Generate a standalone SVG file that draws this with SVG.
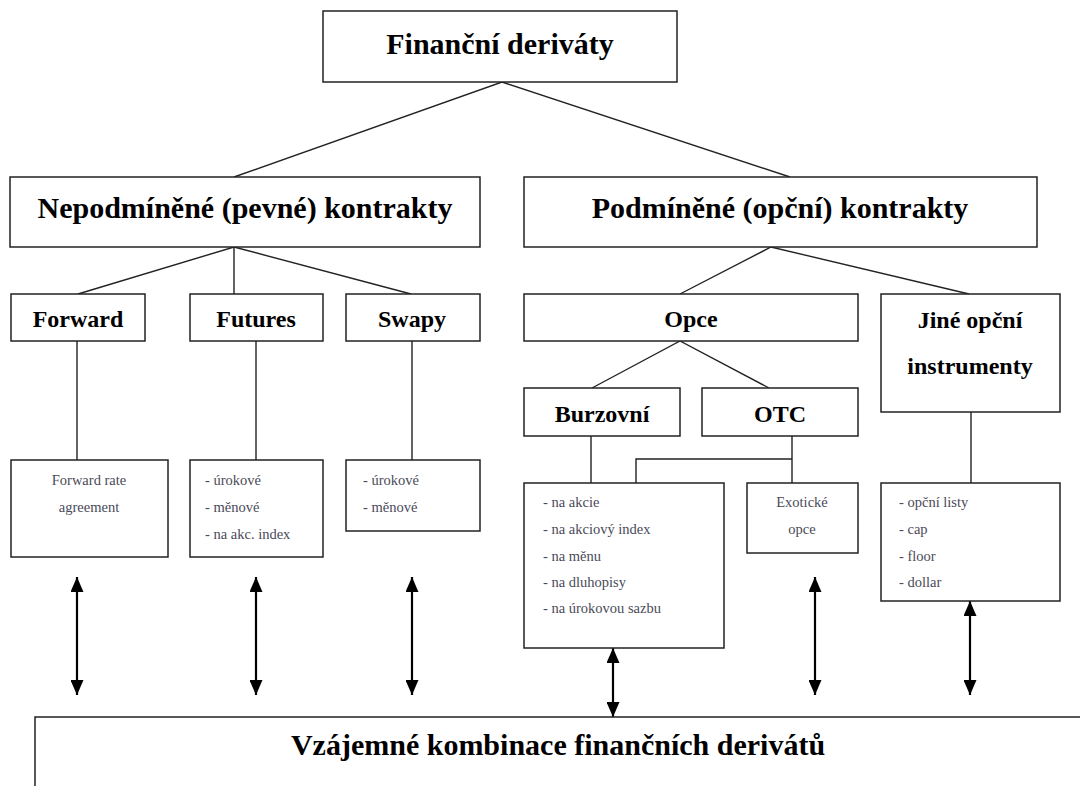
<svg xmlns="http://www.w3.org/2000/svg" width="1080" height="786" viewBox="0 0 1080 786">
<style>
.box{fill:#fff;stroke:#222;stroke-width:1.5}
.ln{fill:none;stroke:#222;stroke-width:1.4}
.arr{fill:none;stroke:#000;stroke-width:2.2;marker-start:url(#ah);marker-end:url(#ah)}
.h{font-family:"Liberation Serif","Times New Roman",serif;font-weight:bold;fill:#000;text-anchor:middle}
.h30{font-size:30px}
.h24{font-size:24px}
.s{font-family:"Liberation Serif","Times New Roman",serif;font-size:14.5px;fill:#4a4a58}
.c{text-anchor:middle}
</style>
<defs>
<marker id="ah" markerUnits="userSpaceOnUse" markerWidth="15" markerHeight="13" refX="15" refY="6.5" orient="auto-start-reverse">
<path d="M0,0 L15,6.5 L0,13 z" fill="#000"/>
</marker>
</defs>
<rect x="0" y="0" width="1080" height="786" fill="#fff"/>

<g id="connectors">
<polyline class="ln" points="234,177 502,82 790,177"/>
<polyline class="ln" points="78,294 234,247 411,294"/>
<line class="ln" x1="234" y1="247" x2="234" y2="294"/>
<polyline class="ln" points="680,294 771,247 969,294"/>
<polyline class="ln" points="592,388 680,341 769,388"/>
<line class="ln" x1="77" y1="341" x2="77" y2="460"/>
<line class="ln" x1="256" y1="341" x2="256" y2="460"/>
<line class="ln" x1="412" y1="341" x2="412" y2="460"/>
<line class="ln" x1="591" y1="436" x2="591" y2="483"/>
<polyline class="ln" points="792,436 792,483"/>
<polyline class="ln" points="792,459 636,459 636,483"/>
<line class="ln" x1="971" y1="412" x2="971" y2="483"/>
<line class="arr" x1="77" y1="577" x2="77" y2="695"/>
<line class="arr" x1="256" y1="577" x2="256" y2="695"/>
<line class="arr" x1="412" y1="577" x2="412" y2="695"/>
<line class="arr" x1="613" y1="648" x2="613" y2="717"/>
<line class="arr" x1="815" y1="577" x2="815" y2="695"/>
<line class="arr" x1="970" y1="601" x2="970" y2="695"/>
</g>

<g id="root">
<rect class="box" x="323" y="11" width="354" height="71"/>
<text class="h h30" x="500" y="54">Finanční deriváty</text>
</g>
<g id="nepodminene">
<rect class="box" x="10" y="177" width="470" height="70"/>
<text class="h h30" x="245" y="218">Nepodmíněné (pevné) kontrakty</text>
</g>
<g id="podminene">
<rect class="box" x="524" y="177" width="513" height="70"/>
<text class="h h30" x="780" y="218">Podmíněné (opční) kontrakty</text>
</g>
<g id="forward">
<rect class="box" x="11" y="294" width="134" height="47"/>
<text class="h h24" x="78" y="327">Forward</text>
</g>
<g id="futures">
<rect class="box" x="190" y="294" width="133" height="47"/>
<text class="h h24" x="256" y="327">Futures</text>
</g>
<g id="swapy">
<rect class="box" x="346" y="294" width="134" height="47"/>
<text class="h h24" x="412" y="327">Swapy</text>
</g>
<g id="opce">
<rect class="box" x="524" y="294" width="334" height="47"/>
<text class="h h24" x="691" y="327">Opce</text>
</g>
<g id="jine">
<rect class="box" x="881" y="294" width="179" height="118"/>
<text class="h h24" x="970" y="328">Jiné opční</text>
<text class="h h24" x="970" y="374">instrumenty</text>
</g>
<g id="burzovni">
<rect class="box" x="524" y="388" width="156" height="48"/>
<text class="h h24" x="602" y="422">Burzovní</text>
</g>
<g id="otc">
<rect class="box" x="702" y="388" width="156" height="48"/>
<text class="h h24" x="780" y="422">OTC</text>
</g>
<g id="fra">
<rect class="box" x="11" y="460" width="157" height="97"/>
<text class="s c" x="89" y="485">Forward rate</text>
<text class="s c" x="89" y="512">agreement</text>
</g>
<g id="futures-detail">
<rect class="box" x="190" y="460" width="133" height="97"/>
<text class="s" x="205" y="485">- úrokové</text>
<text class="s" x="205" y="512">- měnové</text>
<text class="s" x="205" y="539">- na akc. index</text>
</g>
<g id="swapy-detail">
<rect class="box" x="346" y="460" width="134" height="71"/>
<text class="s" x="363" y="485">- úrokové</text>
<text class="s" x="363" y="512">- měnové</text>
</g>
<g id="burzovni-detail">
<rect class="box" x="524" y="483" width="200" height="165"/>
<text class="s" x="543" y="507">- na akcie</text>
<text class="s" x="543" y="534">- na akciový index</text>
<text class="s" x="543" y="561">- na měnu</text>
<text class="s" x="543" y="587">- na dluhopisy</text>
<text class="s" x="543" y="613">- na úrokovou sazbu</text>
</g>
<g id="exoticke">
<rect class="box" x="747" y="483" width="111" height="70"/>
<text class="s c" x="802" y="507">Exotické</text>
<text class="s c" x="802" y="534">opce</text>
</g>
<g id="jine-detail">
<rect class="box" x="881" y="483" width="179" height="118"/>
<text class="s" x="899" y="507">- opční listy</text>
<text class="s" x="899" y="534">- cap</text>
<text class="s" x="899" y="561">- floor</text>
<text class="s" x="899" y="587">- dollar</text>
</g>
<g id="kombinace">
<rect class="box" x="35" y="717" width="1100" height="120"/>
<text class="h h30" x="558" y="755">Vzájemné kombinace finančních derivátů</text>
</g>
</svg>
